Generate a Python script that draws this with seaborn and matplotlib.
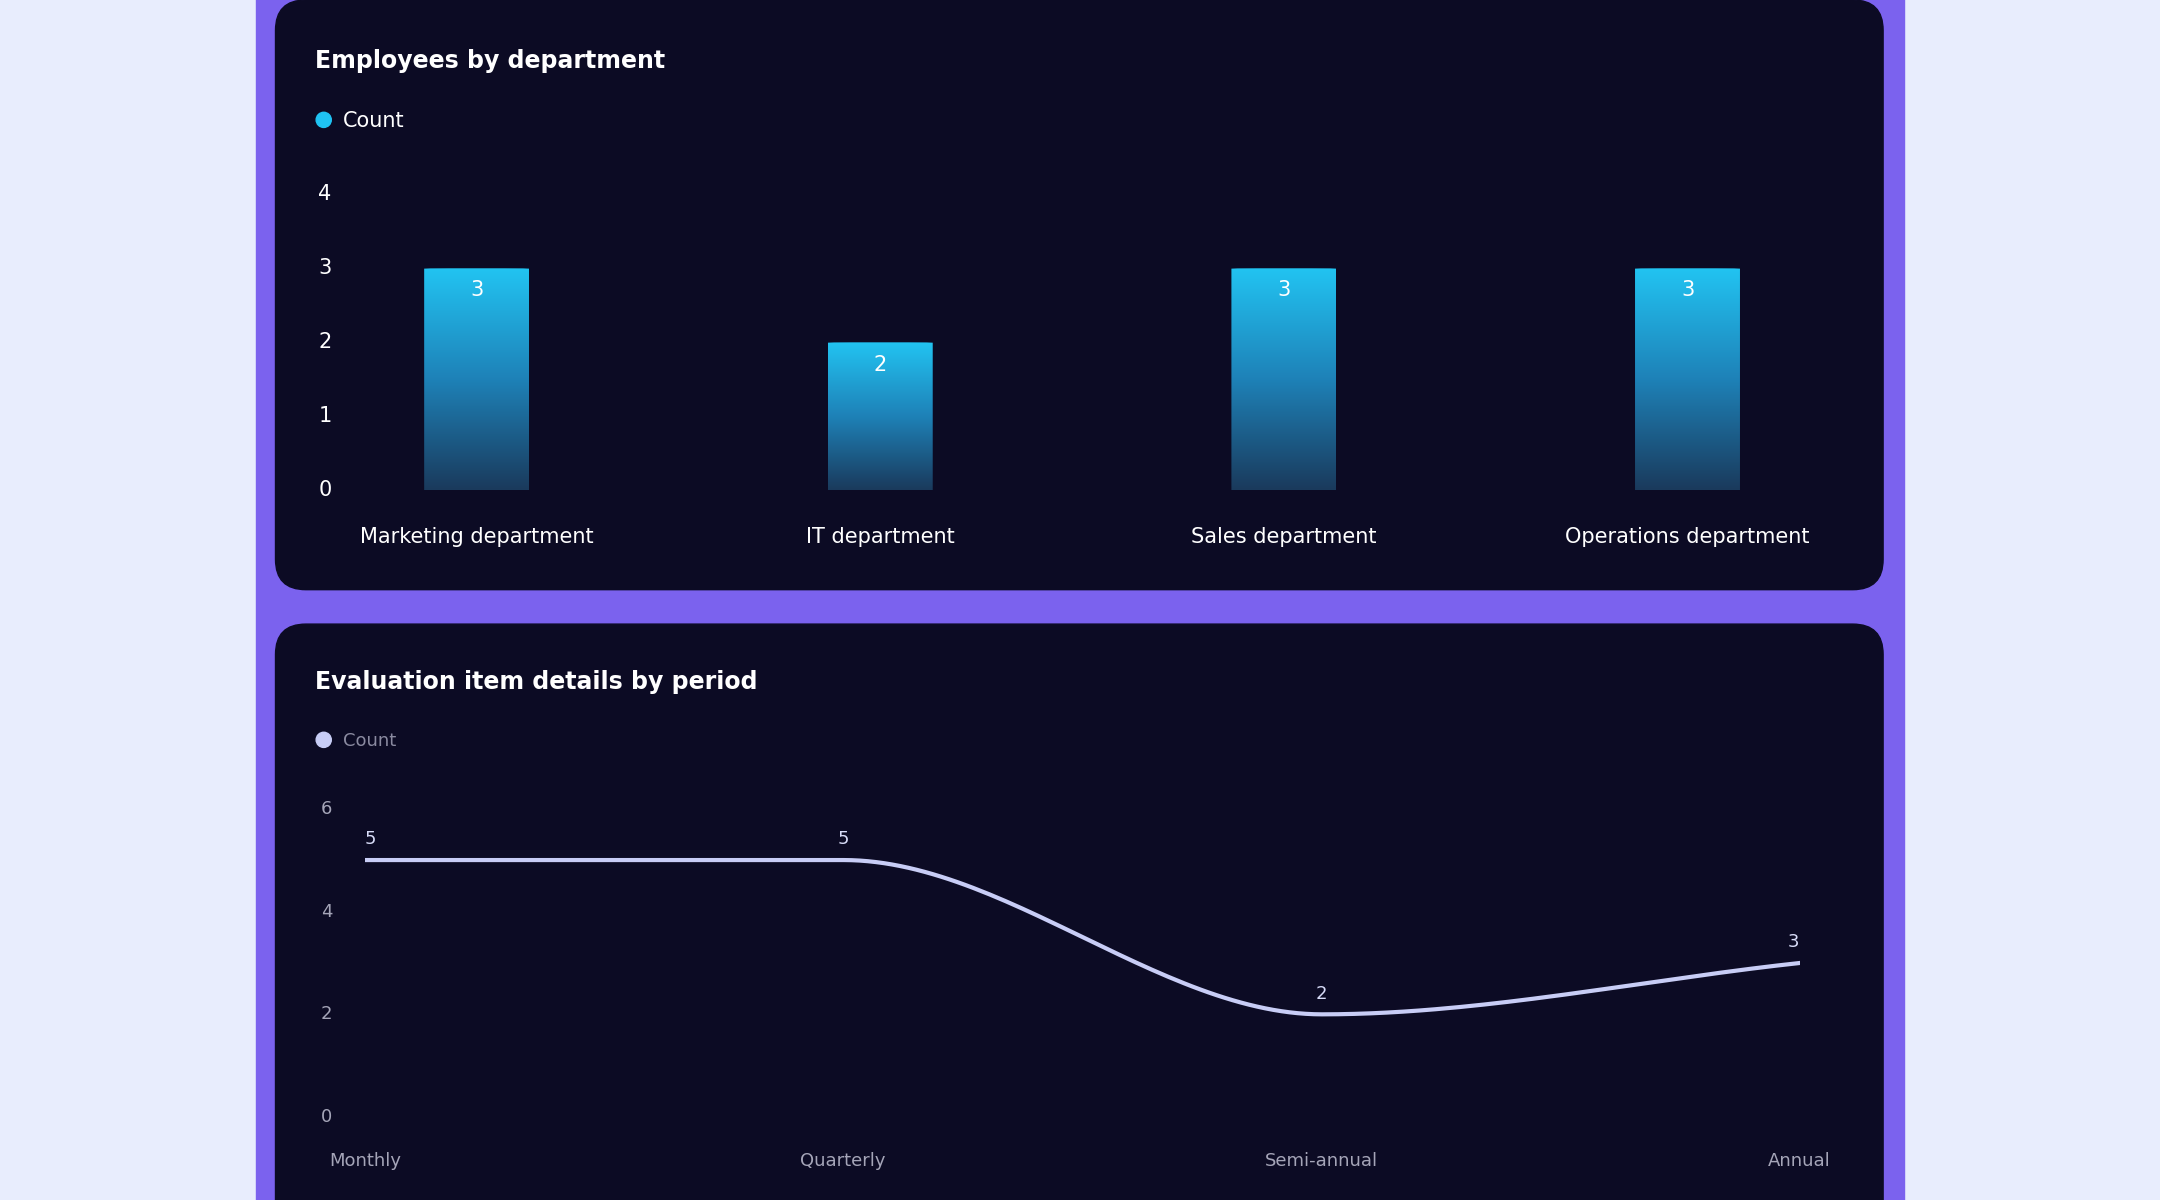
import numpy as np
import pandas as pd
import matplotlib
matplotlib.use("Agg")
import matplotlib.pyplot as plt
import seaborn as sns
from matplotlib.patches import FancyBboxPatch, Circle

departments = ["Marketing department", "IT department", "Sales department", "Operations department"]
dept_counts = [3, 2, 3, 3]
periods = ["Monthly", "Quarterly", "Semi-annual", "Annual"]
period_counts = [5, 5, 2, 3]
top_yticks = [0, 1, 2, 3, 4]
bottom_yticks = [0, 2, 4, 6]

sns.set_theme(style="white")
plt.rcParams['font.family'] = ['DejaVu Sans']

W, H = 2160, 1200
S = W / 1568.0
fig = plt.figure(figsize=(W / 100, H / 100), dpi=100)
fig.patch.set_facecolor("#e8edfd")

def fx(x): return x * S / W
def fy(y): return 1 - y * S / H

bg = fig.add_axes([0, 0, 1, 1]); bg.set_xlim(0, 1568); bg.set_ylim(871, 0); bg.axis("off")
bg.add_patch(plt.Rectangle((186, -5), 1196, 890, color="#7b62ee"))
for (y0, y1) in [(0, 428), (453, 900)]:
    bg.add_patch(FancyBboxPatch((200, y0), 1167, y1 - y0, boxstyle="round,pad=0,rounding_size=22",
                                color="#0c0b24"))
NAVY = "#0c0b24"

def add_ax(x0, x1, ytop, ybot):
    ax = fig.add_axes([fx(x0), fy(ybot), fx(x1) - fx(x0), fy(ytop) - fy(ybot)])
    ax.set_facecolor("none")
    return ax

# ---------- Top chart ----------
bg.text(229, 44, "Employees by department", color="white", fontsize=17, fontweight="bold", va="center")
bg.add_patch(Circle((235, 87), 5.5, color="#1fc3f3"))
bg.text(249, 88, "Count", color="white", fontsize=15, va="center")

ax1 = add_ax(346 - 0.42 * 293, 1225 + 0.42 * 293, 141, 356)
df1 = pd.DataFrame({"dept": departments, "count": dept_counts})
sns.barplot(data=df1, x="dept", y="count", ax=ax1, width=0.26, color="#1fb8ea")
ax1.set_ylim(0, 4); ax1.set_xlim(-0.42, 3.42)
grad = np.linspace(0, 1, 256).reshape(-1, 1)
from matplotlib.colors import LinearSegmentedColormap
cmap = LinearSegmentedColormap.from_list("g", ["#1a3a5c", "#1e82b8", "#22c4f2"])
for p, v in zip(ax1.patches, dept_counts):
    x, w, h = p.get_x(), p.get_width(), p.get_height()
    p.set_visible(False)
    clip = FancyBboxPatch((x, 0), w, h, boxstyle="round,pad=0,rounding_size=0.06",
                          mutation_aspect=4 / (293 * 3.84) * 1.0 * 23, transform=ax1.transData,
                          facecolor="none", edgecolor="none")
    ax1.add_patch(clip)
    im = ax1.imshow(grad, extent=[x, x + w, 0, h], origin="lower", cmap=cmap, aspect="auto", zorder=2)
    im.set_clip_path(clip)
    ax1.text(x + w / 2, h - 0.3, str(v), color="white", ha="center", va="center", fontsize=15, zorder=3)
ax1.set_aspect("auto")
ax1.set_ylim(0, 4); ax1.set_xlim(-0.42, 3.42)
ax1.axis("off")
for i, d in enumerate(departments):
    bg.text(346 + i * 293, 390, d, color="white", fontsize=15, ha="center", va="center")
for t in top_yticks:
    bg.text(236, 356 - t * (356 - 141) / 4, str(t), color="white", fontsize=15, ha="center", va="center")

# ---------- Bottom chart ----------
bg.text(229, 495, "Evaluation item details by period", color="white", fontsize=17, fontweight="bold", va="center")
bg.add_patch(Circle((235, 537), 5.5, color="#c8cdf6"))
bg.text(249, 538, "Count", color="#8a8aa0", fontsize=13, va="center")

ax2 = add_ax(265, 1307, 587, 811)
xs = np.arange(len(periods))
# smooth curve (cubic Hermite with limited tangents)
ys = np.array(period_counts, dtype=float)
tang = np.zeros_like(ys)
for i in range(1, len(ys) - 1):
    d0, d1 = ys[i] - ys[i - 1], ys[i + 1] - ys[i]
    tang[i] = 0 if d0 * d1 <= 0 else 0.5 * (d0 + d1)
tang[-1] = ys[-1] - ys[-2]
tt, yy = [], []
for i in range(len(ys) - 1):
    t = np.linspace(0, 1, 60)
    h00 = 2*t**3 - 3*t**2 + 1; h10 = t**3 - 2*t**2 + t; h01 = -2*t**3 + 3*t**2; h11 = t**3 - t**2
    tt.append(i + t); yy.append(h00*ys[i] + h10*tang[i] + h01*ys[i+1] + h11*tang[i+1])
curve = pd.DataFrame({"x": np.concatenate(tt), "y": np.concatenate(yy)})
sns.lineplot(data=curve, x="x", y="y", ax=ax2, color="#c8cdf6", linewidth=3, sort=False)
ax2.set_xlim(0, 3); ax2.set_ylim(0, 6)
ax2.axis("off")
for i, v in enumerate(period_counts):
    bg.text(269 + i * 347 if i == 0 else 265 + i * 347 - (4 if i == 3 else 0), 811 - v * 224 / 6 - 15,
            str(v), color="#d8dcf8", fontsize=13, ha="center", va="center")
for i, p in enumerate(periods):
    bg.text(265 + i * 347, 843, p, color="#a5a5b8", fontsize=13, ha="center", va="center")
for t in bottom_yticks:
    bg.text(237, 811 - t * 224 / 6, str(t), color="#a5a5b8", fontsize=13, ha="center", va="center")

fig.savefig("out.png", dpi=100, facecolor=fig.get_facecolor())
